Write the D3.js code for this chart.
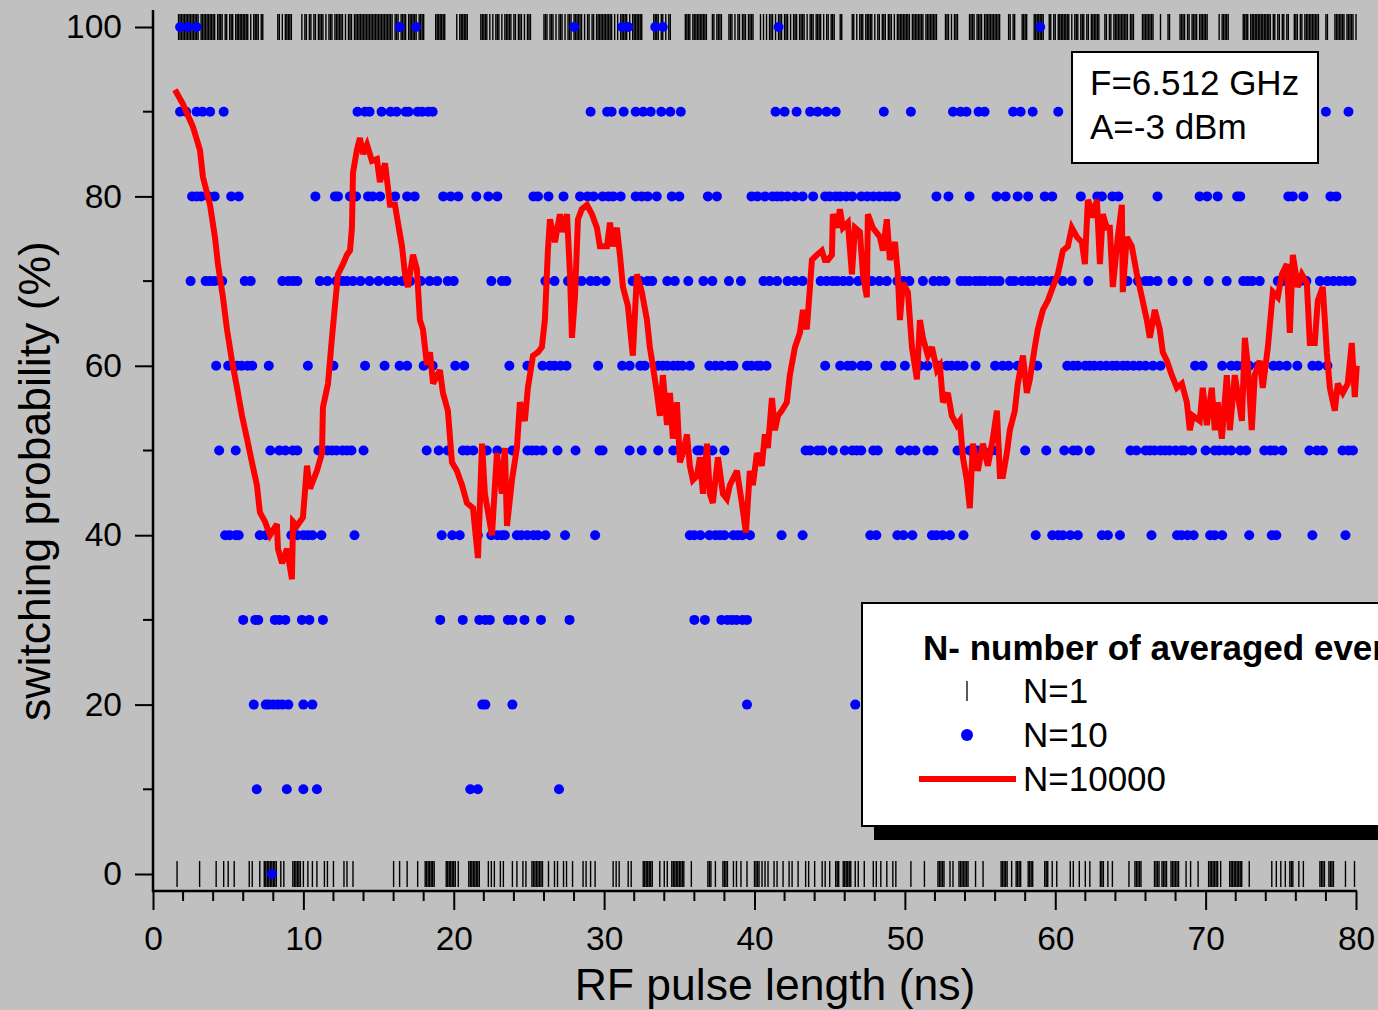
<!DOCTYPE html>
<html>
<head>
<meta charset="utf-8">
<script src="https://cdn.jsdelivr.net/npm/d3@7"></script>
<style>
  html, body { margin: 0; padding: 0; background: #c0c0c0; }
  svg { display: block; }
  text { font-family: "Liberation Sans", Arial, Helvetica, sans-serif; fill: #000; }
</style>
</head>
<body>
<svg id="chart" width="1378" height="1010"></svg>
<script>
// ---------------------------------------------------------------
// Switching probability vs RF pulse length, F = 6.512 GHz, A = -3 dBm
// ---------------------------------------------------------------

// Pulse lengths (ns) scanned for single-shot (N=1) events: 1.6 … 80.0 ns
const singleShotStart = 1.6;
const singleShotEnd = 80.0;
const singleShotStep = 0.1;

// Pulse-length intervals (ns) where the single shot did NOT switch (0 %).
// Every other pulse length of the scan switched (100 %).
const noSwitchRuns = [
  [1.6], [3.1], [4.2], [4.7], [5.0], [5.4], [6.4], [6.6], [7.1], [7.4, 8.2], [8.5], [8.7],
  [9.3, 9.8], [10.0], [10.3], [10.6], [10.9], [11.4], [11.6], [12.0], [12.7], [12.9], [13.3],
  [16.0], [16.4], [16.9], [17.6], [18.1, 18.7], [19.5, 20.1], [20.3], [21.0, 21.7], [22.3],
  [22.5], [22.7], [23.1], [23.3], [23.9], [24.2], [24.6], [24.8], [25.2, 25.9], [26.3], [26.7],
  [26.9], [27.3], [27.5], [27.9], [28.6], [28.8], [29.1], [29.4], [30.6], [30.8], [31.0],
  [31.6], [31.8], [32.6, 33.2], [33.7], [34.0], [34.2], [34.5, 35.3], [35.8], [36.9, 37.1],
  [37.4], [37.9, 38.2], [38.6], [38.8], [39.1], [39.5], [40.0, 40.3], [40.5], [40.7], [40.9],
  [41.3], [41.5], [41.9], [42.3], [42.5], [42.9], [43.4], [43.6], [44.0], [44.5], [44.7],
  [45.0], [45.4, 45.6], [45.9, 46.4], [46.7], [46.9], [47.3], [47.9], [48.1], [48.4], [48.8],
  [49.2], [49.4], [50.4], [51.3], [52.2, 52.6], [53.0], [53.2], [53.6, 54.2], [54.7], [55.2],
  [56.4, 56.8], [57.1], [57.4, 57.7], [58.2, 58.5], [59.3, 59.5], [59.8], [60.1], [61.0],
  [61.2], [61.6], [62.0], [62.3], [63.0, 63.2], [63.5], [63.8], [64.9], [65.3, 65.7],
  [66.6, 66.9], [67.1, 67.4], [67.7, 68.2], [68.7], [69.0], [69.5], [70.2, 70.8], [71.0],
  [71.6, 72.4], [72.9], [74.4], [74.7], [75.0], [75.3], [75.6, 75.8], [76.2], [76.5],
  [77.6, 77.9], [78.2, 78.5], [79.3], [79.9]
];

// N=10 averages: pulse lengths (ns) at which each probability level was measured
const avg10Levels = [0, 10, 20, 30, 40, 50, 60, 70, 80, 90, 100];
const avg10At0 = [7.9];
const avg10At10 = [6.9, 8.9, 10.0, 10.9, 21.1, 21.6, 27.0];
const avg10At20 = [6.7, 7.5, 7.7, 8.0, 8.3, 8.6, 9.0, 10.0, 10.6, 21.9, 22.1, 23.9, 39.5, 46.7];
const avg10At30 = [6.0, 6.8, 7.0, 8.1, 8.4, 8.8, 9.9, 10.4, 11.3, 19.1, 20.6, 21.7, 22.1, 22.4,
  23.6, 23.9, 24.7, 25.8, 27.7, 36.0, 36.7, 37.8, 38.2, 38.5, 38.8, 39.2, 39.5];
const avg10At40 = [4.8, 5.1, 5.5, 5.7, 7.1, 7.5, 9.2, 9.6, 10.0, 10.3, 10.6, 11.2, 13.4, 19.2,
  19.9, 20.4, 21.6, 22.5, 22.9, 23.2, 23.4, 24.2, 24.5, 24.9, 25.3, 25.6, 26.1, 27.4, 29.4,
  35.7, 36.0, 36.4, 37.0, 37.4, 37.7, 38.0, 38.6, 38.9, 39.2, 39.7, 41.8, 43.2, 47.7, 48.1,
  49.5, 49.9, 50.5, 51.8, 52.1, 52.5, 53.0, 53.9, 58.7, 59.8, 60.2, 60.5, 61.0, 61.5, 63.1,
  63.5, 64.3, 66.4, 68.1, 68.4, 68.8, 69.2, 70.3, 70.6, 71.1, 72.9, 74.4, 74.7, 77.1, 79.3];
const avg10At50 = [4.4, 5.5, 7.8, 8.4, 8.8, 9.3, 9.6, 11.0, 11.6, 11.9, 12.2, 12.6, 12.9, 13.2,
  14.0, 18.2, 19.0, 19.6, 20.6, 20.9, 21.3, 22.2, 22.9, 23.9, 24.9, 25.2, 25.5, 25.9, 26.9,
  28.1, 29.7, 29.9, 31.7, 32.5, 33.6, 34.6, 36.2, 36.4, 36.9, 37.2, 38.0, 43.4, 43.7, 44.2,
  44.5, 45.2, 46.0, 46.5, 46.8, 47.1, 47.9, 48.2, 49.7, 50.3, 50.7, 51.5, 51.9, 53.5, 54.3,
  54.8, 55.2, 55.8, 56.1, 58.0, 59.4, 60.6, 61.2, 61.5, 62.3, 65.0, 65.4, 66.0, 66.3, 66.6,
  67.0, 67.3, 67.6, 68.0, 68.4, 68.6, 69.1, 70.0, 70.6, 70.9, 71.3, 71.7, 72.3, 72.7, 73.9,
  74.3, 74.6, 75.1, 76.9, 77.4, 77.8, 79.1, 79.5, 79.8];
const avg10At60 = [4.2, 5.0, 5.6, 5.9, 6.3, 6.6, 7.7, 10.3, 12.0, 14.1, 15.4, 16.4, 16.9, 18.0,
  18.6, 20.1, 20.7, 23.7, 24.9, 25.9, 26.4, 26.7, 27.1, 27.5, 29.6, 31.2, 31.7, 32.4, 32.7,
  33.6, 33.9, 34.2, 34.6, 34.9, 35.2, 35.7, 37.0, 37.4, 37.8, 38.3, 38.6, 39.5, 39.8, 40.2,
  40.4, 40.8, 44.7, 45.7, 46.2, 46.5, 47.1, 47.5, 48.7, 49.1, 50.0, 51.0, 51.5, 52.3, 52.8,
  53.1, 53.5, 53.9, 54.7, 56.0, 56.5, 56.9, 57.5, 58.8, 60.8, 61.2, 61.5, 62.0, 62.3, 62.6,
  63.0, 63.4, 63.8, 64.1, 64.5, 64.8, 65.2, 65.6, 66.0, 66.5, 67.0, 69.3, 69.8, 71.1, 71.7,
  72.1, 72.5, 72.9, 73.5, 74.5, 74.9, 75.4, 76.1, 77.1, 77.5, 78.1];
const avg10At70 = [2.5, 3.5, 3.8, 4.1, 4.6, 6.1, 6.5, 8.6, 9.0, 9.3, 9.6, 11.1, 11.6, 12.2,
  12.6, 12.9, 13.3, 13.8, 14.4, 15.0, 15.6, 16.1, 16.6, 17.1, 17.8, 18.4, 18.9, 19.6, 20.0,
  22.5, 23.2, 23.5, 26.1, 26.7, 27.6, 28.1, 28.5, 29.1, 29.5, 30.1, 31.9, 32.4, 32.9, 33.2,
  34.2, 34.7, 35.6, 36.6, 37.2, 38.3, 39.1, 40.6, 41.0, 41.5, 42.2, 42.7, 43.2, 44.4, 44.8,
  45.2, 45.5, 45.9, 46.3, 46.9, 47.5, 47.8, 48.3, 48.8, 49.5, 49.9, 50.3, 51.2, 51.9, 52.3,
  52.7, 53.7, 54.0, 54.3, 54.7, 55.0, 55.3, 55.7, 56.0, 56.3, 57.0, 57.3, 57.8, 58.2, 58.5,
  59.0, 59.4, 59.8, 60.5, 61.1, 62.2, 64.8, 65.5, 66.0, 66.3, 66.8, 67.8, 68.8, 70.2, 71.4,
  72.5, 72.8, 73.1, 73.6, 74.8, 75.1, 76.3, 76.7, 77.6, 78.1, 78.5, 78.9, 79.3, 79.7];
const avg10At80 = [2.6, 2.9, 3.2, 3.7, 4.1, 5.2, 5.7, 10.8, 12.1, 12.3, 13.1, 13.5, 14.3, 14.6,
  15.1, 16.1, 16.9, 17.4, 19.3, 19.8, 20.3, 21.5, 22.3, 22.9, 25.3, 25.6, 26.3, 27.3, 28.4,
  28.9, 29.3, 29.9, 30.3, 30.6, 31.1, 32.1, 32.5, 32.9, 33.5, 34.5, 35.0, 36.9, 37.5, 39.8,
  40.2, 40.7, 41.2, 41.5, 41.8, 42.2, 42.7, 43.2, 43.9, 44.7, 45.0, 45.4, 45.7, 46.1, 46.5,
  47.1, 47.5, 47.9, 48.3, 48.7, 49.0, 49.4, 52.1, 52.9, 54.3, 56.1, 56.7, 57.5, 58.2, 59.3,
  59.8, 61.7, 62.8, 63.1, 63.8, 64.2, 66.8, 69.6, 70.1, 70.8, 72.1, 72.3, 75.5, 75.8, 76.5,
  78.3, 78.7];
const avg10At90 = [1.8, 2.2, 2.9, 3.3, 3.8, 4.7, 13.6, 14.1, 14.4, 15.2, 15.8, 16.2, 16.8, 17.0,
  17.6, 17.9, 18.3, 18.6, 29.1, 30.2, 30.5, 31.3, 32.1, 32.6, 33.1, 33.8, 34.4, 35.1, 41.4,
  42.0, 42.8, 43.7, 44.2, 44.8, 45.4, 48.6, 50.4, 53.2, 53.7, 54.1, 54.9, 55.3, 57.2, 57.7,
  58.5, 60.2, 78.0, 79.5];
const avg10At100 = [1.8, 2.3, 2.9, 16.4, 17.5, 28.0, 31.2, 31.6, 33.4, 33.9, 41.6, 59.0];
const avg10Series = [avg10At0, avg10At10, avg10At20, avg10At30, avg10At40, avg10At50,
  avg10At60, avg10At70, avg10At80, avg10At90, avg10At100];

// N=10000 averages: pulse length (ns) and switching probability (%)
const avgPulse = [1.46, 1.99, 2.66, 3.12, 3.32, 3.79, 4.12, 4.32, 4.65, 4.92, 5.25, 5.59, 5.92,
  6.25, 6.58, 6.91, 7.11, 7.45, 7.78, 8.24, 8.31, 8.58, 8.91, 9.24, 9.31, 9.57, 9.97, 10.24,
  10.44, 10.90, 11.24, 11.30, 11.64, 11.90, 12.10, 12.30, 12.63, 12.90, 13.10, 13.23, 13.30,
  13.56, 13.76, 13.96, 14.23, 14.56, 14.89, 15.09, 15.43, 15.76, 16.09, 16.29, 16.56, 16.76,
  16.95, 17.29, 17.55, 17.75, 17.95, 18.22, 18.42, 18.62, 19.08, 19.28, 19.61, 19.88, 20.21,
  20.55, 20.88, 21.28, 21.61, 21.88, 22.07, 22.54, 22.87, 23.20, 23.40, 23.54, 23.87, 24.20,
  24.40, 24.73, 24.93, 25.27, 25.60, 25.86, 26.06, 26.26, 26.40, 26.73, 27.06, 27.26, 27.53,
  27.73, 27.86, 28.06, 28.26, 28.52, 28.86, 29.19, 29.52, 29.72, 30.19, 30.39, 30.59, 30.85,
  31.05, 31.25, 31.58, 31.85, 31.91, 32.18, 32.51, 32.85, 33.04, 33.24, 33.51, 33.71, 33.91,
  34.18, 34.38, 34.57, 34.84, 35.04, 35.24, 35.51, 35.70, 35.90, 36.17, 36.37, 36.57, 36.84,
  37.03, 37.23, 37.57, 37.90, 38.16, 38.36, 38.83, 39.16, 39.43, 39.69, 39.89, 40.16, 40.49,
  40.69, 40.89, 41.16, 41.36, 41.56, 41.82, 42.15, 42.35, 42.69, 43.02, 43.22, 43.48, 43.82,
  44.15, 44.48, 44.68, 44.88, 45.15, 45.21, 45.48, 45.68, 45.88, 46.21, 46.48, 46.68, 47.01,
  47.21, 47.47, 47.54, 47.87, 48.34, 48.54, 48.80, 49.00, 49.34, 49.53, 49.67, 49.87, 50.20,
  50.47, 50.80, 51.00, 51.20, 51.53, 51.80, 52.13, 52.33, 52.53, 52.86, 53.12, 53.46, 53.66,
  53.86, 54.12, 54.32, 54.52, 54.85, 55.19, 55.52, 55.85, 56.12, 56.32, 56.52, 56.78, 56.98,
  57.31, 57.51, 57.85, 58.11, 58.31, 58.64, 58.84, 59.18, 59.51, 59.84, 60.17, 60.51, 60.84,
  61.10, 61.44, 61.77, 61.97, 62.17, 62.30, 62.50, 62.77, 62.97, 63.16, 63.43, 63.63, 63.83,
  64.16, 64.43, 64.49, 64.76, 65.09, 65.43, 65.76, 66.09, 66.29, 66.62, 66.95, 67.15, 67.42,
  67.75, 68.09, 68.42, 68.75, 68.95, 69.15, 69.61, 69.81, 70.08, 70.41, 70.61, 70.81, 71.08,
  71.41, 71.61, 71.94, 72.41, 72.61, 72.81, 73.07, 73.27, 73.60, 73.80, 74.14, 74.47, 74.80,
  75.07, 75.40, 75.60, 75.80, 76.13, 76.40, 76.73, 76.93, 77.26, 77.46, 77.79, 78.06, 78.26,
  78.59, 78.79, 79.12, 79.45, 79.72, 79.92, 80.05];
const avgProb = [92.6, 90.9, 88.2, 85.5, 82.3, 79.0, 75.2, 72.0, 68.1, 64.3, 60.6, 57.4, 54.1,
  51.4, 48.6, 45.9, 42.7, 41.6, 40.0, 41.3, 38.4, 36.7, 38.4, 34.8, 41.6, 41.1, 42.1, 48.2,
  45.5, 47.6, 49.7, 55.1, 57.9, 63.3, 67.1, 70.8, 72.0, 73.1, 73.6, 76.3, 82.8, 85.5, 86.9,
  85.0, 86.1, 84.2, 84.4, 81.7, 83.9, 79.0, 79.0, 76.9, 74.1, 70.8, 69.3, 73.1, 71.4, 65.4,
  64.3, 60.1, 61.6, 57.9, 59.5, 56.8, 54.7, 48.6, 47.6, 45.9, 43.8, 43.2, 37.3, 50.8, 44.9,
  40.0, 49.7, 44.9, 50.3, 41.1, 46.5, 50.3, 55.7, 53.5, 57.4, 61.2, 61.6, 62.2, 65.4, 73.6,
  77.3, 74.6, 77.9, 75.8, 77.9, 70.8, 63.3, 68.1, 77.3, 78.5, 79.0, 77.9, 76.3, 74.1, 74.1,
  76.9, 74.1, 76.3, 73.1, 69.3, 67.1, 62.2, 61.2, 70.8, 68.7, 65.4, 62.2, 60.0, 56.8, 54.1,
  58.9, 53.0, 56.8, 51.4, 55.7, 48.6, 49.7, 51.9, 48.2, 46.5, 47.0, 49.2, 44.9, 50.8, 44.9,
  43.8, 49.2, 44.9, 44.3, 45.9, 47.6, 43.8, 40.3, 47.6, 45.9, 49.7, 48.2, 51.9, 50.3, 56.2,
  52.4, 54.1, 54.7, 55.7, 58.9, 62.2, 63.9, 66.6, 64.3, 72.5, 73.1, 73.6, 72.5, 72.5, 73.1,
  77.9, 76.3, 78.5, 76.3, 76.9, 70.8, 76.3, 75.8, 70.8, 68.1, 77.9, 76.3, 75.2, 73.6, 77.3,
  72.5, 74.6, 70.8, 65.4, 69.8, 68.7, 62.2, 58.4, 65.4, 63.3, 61.2, 62.2, 59.5, 60.0, 55.7,
  56.8, 54.1, 53.0, 53.5, 49.2, 46.5, 43.2, 50.8, 47.6, 50.8, 48.2, 51.4, 54.7, 47.0, 47.0,
  49.7, 52.4, 54.7, 57.9, 61.2, 56.8, 58.4, 62.2, 64.3, 66.6, 67.7, 69.3, 70.8, 73.6, 74.1,
  76.3, 75.2, 74.6, 72.0, 79.6, 79.0, 77.5, 79.6, 72.0, 77.9, 76.3, 76.3, 69.3, 75.2, 79.0,
  68.7, 75.2, 74.1, 70.8, 68.1, 65.4, 63.3, 66.6, 64.3, 61.6, 60.6, 58.9, 57.4, 57.9, 55.7,
  52.4, 54.1, 53.5, 57.4, 53.0, 57.4, 52.4, 55.7, 51.4, 58.9, 52.4, 58.9, 53.5, 63.3, 60.0,
  52.4, 58.9, 60.6, 57.4, 62.2, 68.7, 68.1, 70.8, 72.0, 63.9, 73.1, 69.3, 70.8, 69.8, 62.7,
  62.7, 67.7, 69.3, 61.6, 57.4, 54.7, 57.9, 56.8, 57.9, 62.7, 56.3, 60.0];

// Axis ticks
const xMajorTicks = [0, 10, 20, 30, 40, 50, 60, 70, 80];
const xMinorTicks = [2, 4, 6, 8, 12, 14, 16, 18, 22, 24, 26, 28, 32, 34, 36, 38, 42, 44, 46, 48,
  52, 54, 56, 58, 62, 64, 66, 68, 72, 74, 76, 78];
const yMajorTicks = [0, 20, 40, 60, 80, 100];
const yMinorTicks = [10, 30, 50, 70, 90];

// Annotation and legend texts
const conditionLines = ["F=6.512 GHz", "A=-3 dBm"];
const legendTitle = "N- number of averaged events";
const legendLabels = ["N=1", "N=10", "N=10000"];

// ---------------------------------------------------------------
const svg = d3.select("#chart");
const W = 1378, H = 1010;

const x = d3.scaleLinear().domain([0, 80]).range([153, 1356]);
const y = d3.scaleLinear().domain([0, 100]).range([874, 27]);

svg.append("rect").attr("width", W).attr("height", H).attr("fill", "#c0c0c0");

// Single-shot outcomes on the scan grid
const nSteps = Math.round((singleShotEnd - singleShotStart) / singleShotStep);
const singleShots = d3.range(nSteps + 1).map(i => {
  const t = +(singleShotStart + i * singleShotStep).toFixed(1);
  const off = noSwitchRuns.some(r => t >= r[0] - 1e-6 && t <= (r.length > 1 ? r[1] : r[0]) + 1e-6);
  return { t, p: off ? 0 : 100 };
});

const gTicks = svg.append("g").attr("stroke", "#000").attr("stroke-width", 1.4);
gTicks.selectAll("line").data(singleShots).join("line")
  .attr("x1", d => x(d.t)).attr("x2", d => x(d.t))
  .attr("y1", d => y(d.p) - 13).attr("y2", d => y(d.p) + 13);

// N=10 dots
const dots = [];
avg10Series.forEach((arr, i) => arr.forEach(t => dots.push({ t, p: avg10Levels[i] })));
svg.append("g").selectAll("circle").data(dots).join("circle")
  .attr("cx", d => x(d.t)).attr("cy", d => y(d.p)).attr("r", 5)
  .attr("fill", "#0000ff");

// N=10000 curve
const curve = avgPulse.map((t, i) => ({ t, p: avgProb[i] }));
svg.append("path").datum(curve)
  .attr("fill", "none").attr("stroke", "#ff0000").attr("stroke-width", 6)
  .attr("stroke-linejoin", "miter").attr("stroke-miterlimit", 3)
  .attr("d", d3.line().x(d => x(d.t)).y(d => y(d.p)));

// Axes
const axisY = 891;
const tickFont = 33.5;
const gx = svg.append("g").attr("transform", `translate(0,${axisY})`);
gx.call(d3.axisBottom(x).tickValues(xMajorTicks).tickSize(19).tickPadding(16).tickSizeOuter(0)
  .tickFormat(d3.format("d")));
gx.select(".domain").remove();
gx.selectAll(".tick line").attr("stroke", "#000").attr("stroke-width", 2);
gx.selectAll(".tick text").attr("font-size", tickFont).attr("font-family", "Liberation Sans, Arial, sans-serif").attr("fill", "#000");
gx.append("g").selectAll("line").data(xMinorTicks).join("line")
  .attr("x1", d => x(d)).attr("x2", d => x(d)).attr("y1", 0).attr("y2", 10)
  .attr("stroke", "#000").attr("stroke-width", 2);
svg.append("line").attr("x1", 152).attr("x2", 1357).attr("y1", axisY).attr("y2", axisY)
  .attr("stroke", "#000").attr("stroke-width", 2.5);

const gy = svg.append("g").attr("transform", "translate(153,0)");
gy.call(d3.axisLeft(y).tickValues(yMajorTicks).tickSize(18).tickPadding(13).tickSizeOuter(0)
  .tickFormat(d3.format("d")));
gy.select(".domain").remove();
gy.selectAll(".tick line").attr("stroke", "#000").attr("stroke-width", 2);
gy.selectAll(".tick text").attr("font-size", tickFont).attr("font-family", "Liberation Sans, Arial, sans-serif").attr("fill", "#000");
gy.append("g").selectAll("line").data(yMinorTicks).join("line")
  .attr("x1", -10).attr("x2", 0).attr("y1", d => y(d)).attr("y2", d => y(d))
  .attr("stroke", "#000").attr("stroke-width", 2);
svg.append("line").attr("x1", 153).attr("x2", 153).attr("y1", 10).attr("y2", axisY + 1)
  .attr("stroke", "#000").attr("stroke-width", 2.5);

// Axis titles
svg.append("text").attr("x", 775).attr("y", 1000).attr("text-anchor", "middle")
  .attr("font-size", 44.5).text("RF pulse length (ns)");
svg.append("text").attr("transform", "translate(50,481) rotate(-90)").attr("text-anchor", "middle")
  .attr("font-size", 44.5).text("switching probability (%)");

// Condition box
svg.append("rect").attr("x", 1072).attr("y", 52).attr("width", 246).attr("height", 111)
  .attr("fill", "#fff").attr("stroke", "#000").attr("stroke-width", 2);
conditionLines.forEach((s, i) => {
  svg.append("text").attr("x", 1090).attr("y", 95 + i * 44).attr("font-size", 35).text(s);
});

// Legend with drop shadow
svg.append("rect").attr("x", 874).attr("y", 616).attr("width", 560).attr("height", 224).attr("fill", "#000");
svg.append("rect").attr("x", 862).attr("y", 603).attr("width", 560).attr("height", 223)
  .attr("fill", "#fff").attr("stroke", "#000").attr("stroke-width", 2);
svg.append("text").attr("x", 923).attr("y", 660).attr("font-size", 35).attr("font-weight", "bold")
  .text(legendTitle);
const legendY = [703, 747, 791];
legendLabels.forEach((s, i) => {
  svg.append("text").attr("x", 1023).attr("y", legendY[i]).attr("font-size", 35).text(s);
});
svg.append("line").attr("x1", 967).attr("x2", 967).attr("y1", 681).attr("y2", 701)
  .attr("stroke", "#000").attr("stroke-width", 1.3);
svg.append("circle").attr("cx", 967).attr("cy", 735).attr("r", 6).attr("fill", "#0000ff");
svg.append("line").attr("x1", 919).attr("x2", 1016).attr("y1", 779).attr("y2", 779)
  .attr("stroke", "#ff0000").attr("stroke-width", 6);
</script>
</body>
</html>
